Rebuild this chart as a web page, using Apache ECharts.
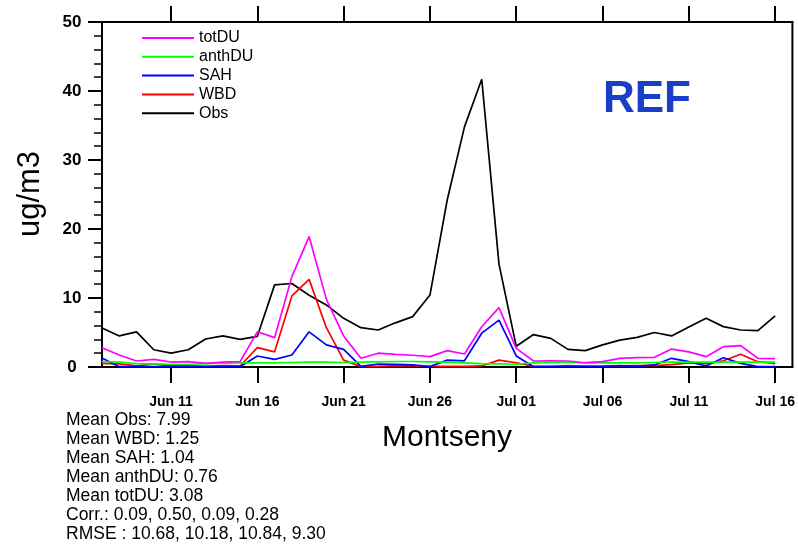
<!DOCTYPE html>
<html>
<head>
<meta charset="utf-8">
<script src="https://cdn.jsdelivr.net/npm/echarts@6/dist/echarts.min.js"></script>
<style>
  html, body { margin: 0; padding: 0; background: #fff; }
  #chart { width: 798px; height: 545px; }
</style>
</head>
<body>
<div id="chart"></div>
<script>
// daily categories, Jun 07 .. Jul 17 (last one is the axis end)
const days = [
  'Jun 07', 'Jun 08', 'Jun 09', 'Jun 10', 'Jun 11', 'Jun 12', 'Jun 13', 'Jun 14', 'Jun 15', 'Jun 16',
  'Jun 17', 'Jun 18', 'Jun 19', 'Jun 20', 'Jun 21', 'Jun 22', 'Jun 23', 'Jun 24', 'Jun 25', 'Jun 26',
  'Jun 27', 'Jun 28', 'Jun 29', 'Jun 30', 'Jul 01', 'Jul 02', 'Jul 03', 'Jul 04', 'Jul 05', 'Jul 06',
  'Jul 07', 'Jul 08', 'Jul 09', 'Jul 10', 'Jul 11', 'Jul 12', 'Jul 13', 'Jul 14', 'Jul 15', 'Jul 16',
  'Jul 17'
]
const tickLabels = ['Jun 11', 'Jun 16', 'Jun 21', 'Jun 26', 'Jul 01', 'Jul 06', 'Jul 11', 'Jul 16']

const obs = [5.65, 4.5, 5.1, 2.5, 2.0, 2.5, 4.06, 4.5, 4.0, 4.45,
  11.9, 12.1, 10.4, 9.0, 7.05, 5.7, 5.36, 6.4, 7.3, 10.43,
  24.2, 34.8, 41.7, 14.9, 3.0, 4.7, 4.15, 2.55, 2.37, 3.2,
  3.9, 4.3, 5.0, 4.5, 5.8, 7.05, 5.85, 5.36, 5.26, 7.4]
const wbd = [0.53, 0.45, 0.15, 0.45, 0.15, 0.15, 0.1, 0.2, 0.15, 2.8,
  2.2, 10.3, 12.7, 5.7, 1.0, 0.05, 0.1, 0.2, 0.15, 0.1,
  0.1, 0.1, 0.15, 1.0, 0.62, 0.1, 0.1, 0.2, 0.1, 0.1,
  0.15, 0.2, 0.2, 0.35, 0.6, 0.5, 0.9, 1.84, 0.77, 0.5]
const sah = [1.3, 0.05, 0.05, 0.05, 0.1, 0.1, 0.05, 0.05, 0.05, 1.6,
  1.1, 1.74, 5.1, 3.2, 2.55, 0.1, 0.43, 0.4, 0.3, 0.05,
  1.0, 0.9, 4.9, 6.8, 1.6, 0.05, 0.05, 0.05, 0.1, 0.1,
  0.2, 0.1, 0.3, 1.26, 0.77, 0.15, 1.35, 0.53, 0.05, 0.05]
const anthDU = [0.8, 0.7, 0.5, 0.45, 0.4, 0.4, 0.5, 0.55, 0.6, 0.6,
  0.6, 0.65, 0.7, 0.7, 0.65, 0.7, 0.75, 0.8, 0.8, 0.75,
  0.7, 0.6, 0.5, 0.45, 0.4, 0.6, 0.65, 0.65, 0.6, 0.6,
  0.6, 0.6, 0.65, 0.7, 0.7, 0.7, 0.7, 0.7, 0.7, 0.7]
const totDU = [2.8, 1.74, 0.87, 1.1, 0.72, 0.77, 0.53, 0.72, 0.77, 5.1,
  4.25, 13.1, 18.9, 9.8, 4.5, 1.26, 2.0, 1.84, 1.7, 1.5,
  2.37, 1.88, 5.84, 8.6, 2.7, 0.87, 0.9, 0.87, 0.62, 0.77,
  1.26, 1.35, 1.4, 2.6, 2.2, 1.5, 2.94, 3.1, 1.26, 1.2]

const statLines = [
  'Mean Obs: 7.99',
  'Mean WBD: 1.25',
  'Mean SAH: 1.04',
  'Mean anthDU: 0.76',
  'Mean totDU: 3.08',
  'Corr.: 0.09, 0.50, 0.09, 0.28',
  'RMSE : 10.68, 10.18, 10.84, 9.30'
]

const FONT = 'Liberation Sans, Helvetica, Arial, sans-serif'
const isTick = (i, v) => tickLabels.indexOf(v) >= 0

const mkLine = (name, data, color) => ({
  name: name,
  type: 'line',
  data: data,
  showSymbol: false,
  symbol: 'none',
  lineStyle: { color: color, width: 1.7 },
  itemStyle: { color: color },
  silent: true,
})

const chart = echarts.init(document.getElementById('chart'), null, { renderer: 'canvas' })

chart.setOption({
  animation: false,
  textStyle: { fontFamily: FONT },
  grid: {
    left: 102, right: 5, top: 22, bottom: 178,
    show: true, borderColor: '#000', borderWidth: 2,
  },
  legend: {
    data: ['totDU', 'anthDU', 'SAH', 'WBD', 'Obs'],
    orient: 'vertical',
    left: 142,
    top: 30,
    padding: 0,
    icon: 'rect',
    itemWidth: 52,
    itemHeight: 2,
    itemGap: 2.8,
    textStyle: { fontFamily: FONT, fontSize: 16, color: '#000', lineHeight: 16 },
  },
  xAxis: [
    {
      type: 'category',
      data: days,
      boundaryGap: false,
      axisLine: { lineStyle: { color: '#000', width: 2 } },
      axisTick: { interval: isTick, length: 16, lineStyle: { color: '#000', width: 2 } },
      axisLabel: {
        interval: isTick, margin: 28, color: '#000',
        fontFamily: FONT, fontSize: 14, fontWeight: 'bold',
      },
      splitLine: { show: false },
    },
    {
      type: 'category',
      position: 'top',
      data: days,
      boundaryGap: false,
      axisLine: { lineStyle: { color: '#000', width: 2 } },
      axisTick: { interval: isTick, length: 16, lineStyle: { color: '#000', width: 2 } },
      axisLabel: { show: false },
    },
  ],
  yAxis: {
    type: 'value',
    min: 0,
    max: 50,
    interval: 10,
    axisLine: { show: true, lineStyle: { color: '#000', width: 2 } },
    axisTick: { show: true, length: 14, lineStyle: { color: '#000', width: 2 } },
    minorTick: { show: true, splitNumber: 5, length: 8, lineStyle: { color: '#000', width: 1.5 } },
    axisLabel: {
      margin: 30, align: 'center', color: '#000',
      fontFamily: FONT, fontSize: 17, fontWeight: 'bold',
    },
    splitLine: { show: false },
  },
  series: [
    mkLine('Obs', obs, '#000000'),
    mkLine('WBD', wbd, '#ff0000'),
    mkLine('SAH', sah, '#0000ff'),
    mkLine('anthDU', anthDU, '#00ff00'),
    mkLine('totDU', totDU, '#ff00ff'),
  ],
  graphic: [
    {
      type: 'text',
      style: { text: 'Montseny', fontFamily: FONT, fontSize: 30, fill: '#000', x: 447, y: 438, align: 'center', verticalAlign: 'middle' },
    },
    {
      type: 'text', x: 30, y: 194, rotation: Math.PI / 2,
      style: { text: 'ug/m3', fontFamily: FONT, fontSize: 31, fill: '#000', align: 'center', verticalAlign: 'middle' },
    },
    {
      type: 'text',
      style: { text: 'REF', fontFamily: FONT, fontSize: 44, fontWeight: 'bold', fill: '#1a3ec8', x: 647, y: 100, align: 'center', verticalAlign: 'middle' },
    },
    {
      type: 'text',
      style: { text: statLines.join('\n'), fontFamily: FONT, fontSize: 17.5, lineHeight: 18.9, fill: '#000', x: 66, y: 411, align: 'left', verticalAlign: 'top' },
    },
  ],
})
</script>
</body>
</html>
